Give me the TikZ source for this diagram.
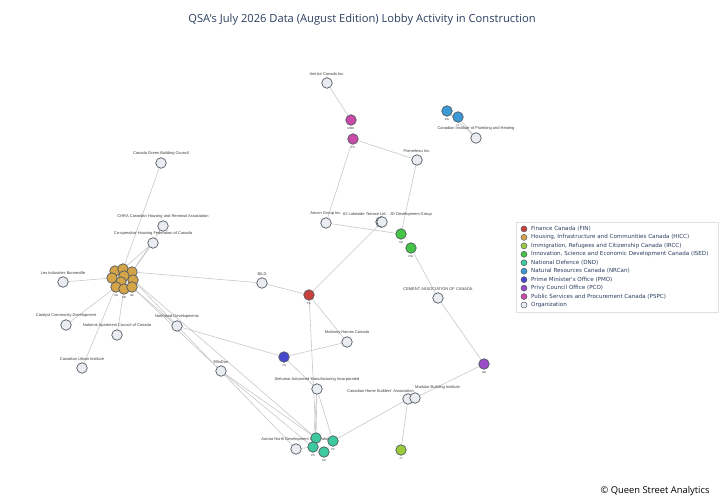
\documentclass[tikz,border=0pt]{standalone}
\usepackage{fontspec}
\setmainfont{Liberation Sans}
\newfontfamily\legendfont{DejaVu Sans}
\newfontfamily\titlefont{Open Sans}
\usetikzlibrary{arrows}

\definecolor{fincol}{HTML}{C9413B}
\definecolor{hicccol}{HTML}{D3A448}
\definecolor{ircccol}{HTML}{9BCB3D}
\definecolor{isedcol}{HTML}{45C446}
\definecolor{dndcol}{HTML}{3FC99F}
\definecolor{nrcancol}{HTML}{3C9AD6}
\definecolor{pmocol}{HTML}{4848CF}
\definecolor{pcocol}{HTML}{9A4CC9}
\definecolor{pspccol}{HTML}{CB4AA8}
\definecolor{orgcol}{HTML}{E9EDF2}
\definecolor{rimcol}{HTML}{505860}
\definecolor{linkcol}{HTML}{C8C8C8}
\definecolor{inkcol}{HTML}{3C3C3C}
\definecolor{headcol}{HTML}{2A3F5F}

\pgfdeclarelayer{edges}
\pgfsetlayers{edges,main}

\begin{document}
\begin{tikzpicture}[x=1bp,y=-1bp,
    dot/.style={circle,draw=rimcol,line width=0.7bp,inner sep=0pt,minimum size=10.5bp},
    org/.style={dot,fill=orgcol},
    fin/.style={dot,fill=fincol},
    hicc/.style={dot,fill=hicccol},
    ircc/.style={dot,fill=ircccol},
    ised/.style={dot,fill=isedcol},
    dnd/.style={dot,fill=dndcol},
    nrcan/.style={dot,fill=nrcancol},
    pmo/.style={dot,fill=pmocol},
    pco/.style={dot,fill=pcocol},
    pspc/.style={dot,fill=pspccol},
    lbl/.style={font=\fontsize{4}{4.5}\selectfont,text=inkcol,inner sep=0pt,label distance=2bp},
    tag/.style={font=\fontsize{2.8}{3}\selectfont,text=inkcol,inner sep=0pt,label distance=1.5bp},
    link/.style={draw=linkcol,line width=0.6bp}]
    \useasboundingbox (0,0) rectangle (720,504);

    % title and footer
    \node[font=\titlefont\fontsize{11.2}{13}\selectfont,text=headcol] (title) at (362,20)
        {QSA's July 2026 Data (August Edition) Lobby Activity in Construction};
    \node[font=\titlefont\fontsize{9.4}{11}\selectfont,text=black,anchor=east] (credit) at (713,491)
        {© Queen Street Analytics};

    % organizations
    \node[org,label={[lbl]above:Amrize Canada Inc.}] (amrize) at (327,83) {};
    \node[org,label={[lbl]above:Pomerleau Inc.}] (pomerleau) at (417,160) {};
    \node[org,label={[lbl]above:Canadian Institute of Plumbing and Heating}] (ciph) at (476,138) {};
    \node[org,label={[lbl]above:Canada Green Building Council}] (cagbc) at (161,163) {};
    \node[org,label={[lbl]above:CHRA Canadian Housing and Renewal Association}] (chra) at (163,226) {};
    \node[org,label={[lbl]above:Co-operative Housing Federation of Canada}] (chfc) at (153,243) {};
    \node[org,label={[lbl]above:Les Industries Bonneville}] (bonneville) at (63,282) {};
    \node[org,label={[lbl]above:Catalyst Community Development}] (catalyst) at (66,325) {};
    \node[org,label={[lbl]above:National Apartment Council of Canada}] (napc) at (117,335) {};
    \node[org,label={[lbl]above:Canadian Urban Institute}] (cui) at (82,368) {};
    \node[org,label={[lbl]above:Northland Developments}] (northland) at (177,326) {};
    \node[org,label={[lbl]above:BILD}] (bild) at (262,283) {};
    \node[org,label={[lbl]above:Aecon Group Inc.}] (aecon) at (326,223) {};
    \node[org] (lakeside) at (381,222) {};
    \node[org] (jd) at (382,222) {};
    \node[lbl] (lakesidetxt) at (365,214) {62 Lakeside Terrace Ltd.};
    \node[lbl] (jdtxt) at (411,214) {JD Development Group};
    \node[org,label={[lbl]above:CEMENT ASSOCIATION OF CANADA}] (cac) at (438,298) {};
    \node[org,label={[lbl]above:Mattamy Homes Canada}] (mattamy) at (347,342) {};
    \node[org,label={[lbl]above:EllisDon}] (ellisdon) at (221,371) {};
    \node[org,label={[lbl]above:Stelumar Advanced Manufacturing Incorporated}] (stelumar) at (317,389) {};
    \node[org] (chba) at (408,399) {};
    \node[org] (mbi) at (415,398) {};
    \node[lbl,anchor=east] (chbatxt) at (414,391) {Canadian Home Builders' Association};
    \node[lbl,anchor=west] (mbitxt) at (415,387) {Modular Building Institute};
    \node[org,label={[lbl]above:Aurora North Development Corporation}] (aurora) at (296,449) {};

    % officials
    \node[pspc,label={[tag]below:MMR}] (pspca) at (351,120) {};
    \node[pspc,label={[tag]below:PS}] (pspcb) at (353,139) {};
    \node[nrcan,label={[tag]below:RG}] (nrcana) at (447,111) {};
    \node[nrcan,label={[tag]below:LC}] (nrcanb) at (458,117) {};
    \node[ised,label={[tag]below:SB}] (iseda) at (401,234) {};
    \node[ised,label={[tag]below:RW}] (isedb) at (411,248) {};
    \node[fin,label={[tag]below:FK}] (fina) at (309,295) {};
    \node[pmo,label={[tag]below:YN}] (pmoa) at (284,357) {};
    \node[pco,label={[tag]below:GB}] (pcoa) at (484,364) {};
    \node[ircc,label={[tag]below:JY}] (irca) at (401,450) {};
    \node[dnd] (dnda) at (316,438) {};
    \node[dnd,label={[tag]below:PH}] (dndb) at (313,447) {};
    \node[dnd,label={[tag]below:PC}] (dndc) at (333,441) {};
    \node[dnd,label={[tag]below:KB}] (dndd) at (324,452) {};

    % housing cluster
    \node[hicc] (h1) at (115,271) {};
    \node[hicc] (h2) at (123,269) {};
    \node[hicc] (h3) at (132,272) {};
    \node[hicc] (h4) at (112,278) {};
    \node[hicc] (h5) at (124,276) {};
    \node[hicc] (h6) at (133,280) {};
    \node[hicc] (h7) at (121,282) {};
    \node[hicc,label={[tag]below:SN}] (h8) at (116,287) {};
    \node[hicc,label={[tag]below:RB}] (h9) at (124,289) {};
    \node[hicc,label={[tag]below:NE}] (h10) at (132,287) {};

    \begin{pgfonlayer}{edges}
    \draw[link] (amrize) -- (pspca);
    \draw[link] (pspcb) -- (pomerleau);
    \draw[link] (pspcb) -- (aecon);
    \draw[link] (pomerleau) -- (iseda);
    \draw[link] (nrcana) -- (ciph);
    \draw[link] (nrcanb) -- (ciph);
    \draw[link] (aecon) -- (iseda);
    \draw[link] (jd) -- (fina);
    \draw[link] (isedb) -- (cac);
    \draw[link] (cac) -- (pcoa);
    \draw[link] (pcoa) -- (mbi);
    \draw[link] (chba) -- (irca);
    \draw[link] (chba) -- (dndc);
    \draw[link] (fina) -- (bild);
    \draw[link] (bild) -- (h3);
    \draw[link] (fina) -- (dnda);
    \draw[link] (fina) -- (mattamy);
    \draw[link] (mattamy) -- (pmoa);
    \draw[link] (pmoa) -- (northland);
    \draw[link] (pmoa) -- (stelumar);
    \draw[link] (stelumar) -- (dnda);
    \draw[link] (stelumar) -- (dndb);
    \draw[link] (stelumar) -- (dndc);
    \draw[link] (aurora) -- (dndb);
    \draw[link] (h2) -- (cagbc);
    \draw[link] (h3) -- (chra);
    \draw[link] (h3) -- (chfc);
    \draw[link] (h2) -- (chfc);
    \draw[link] (h4) -- (bonneville);
    \draw[link] (h8) -- (catalyst);
    \draw[link] (h9) -- (napc);
    \draw[link] (h8) -- (cui);
    \draw[link] (h10) -- (northland);
    \draw[link] (h10) -- (ellisdon);
    \draw[link] (h6) -- (aurora);
    \draw[link] (h6) -- (dnda);
    \draw[link] (ellisdon) -- (dndb);
    \draw[link] (ellisdon) -- (dnda);
    \end{pgfonlayer}

    % legend
    \draw[draw=black!12,fill=white,line width=0.6bp] (516,222) rectangle (718,312);
    \foreach \col/\txt [count=\i] in {fincol/{Finance Canada (FIN)},
        hicccol/{Housing, Infrastructure and Communities Canada (HICC)},
        ircccol/{Immigration, Refugees and Citizenship Canada (IRCC)},
        isedcol/{Innovation, Science and Economic Development Canada (ISED)},
        dndcol/{National Defence (DND)},
        nrcancol/{Natural Resources Canada (NRCan)},
        pmocol/{Prime Minister's Office (PMO)},
        pcocol/{Privy Council Office (PCO)},
        pspccol/{Public Services and Procurement Canada (PSPC)},
        orgcol/{Organization}}
    {
        \node[circle,draw=rimcol,line width=0.5bp,fill=\col,inner sep=0pt,minimum size=6bp]
            (mark\i) at (524,{220.5+8.45*\i}) {};
        \node[anchor=west,inner sep=0pt,font=\legendfont\fontsize{5.6}{6}\selectfont,text=headcol]
            (entry\i) at (531,{220.5+8.45*\i}) {\txt};
    }
\end{tikzpicture}
\end{document}
